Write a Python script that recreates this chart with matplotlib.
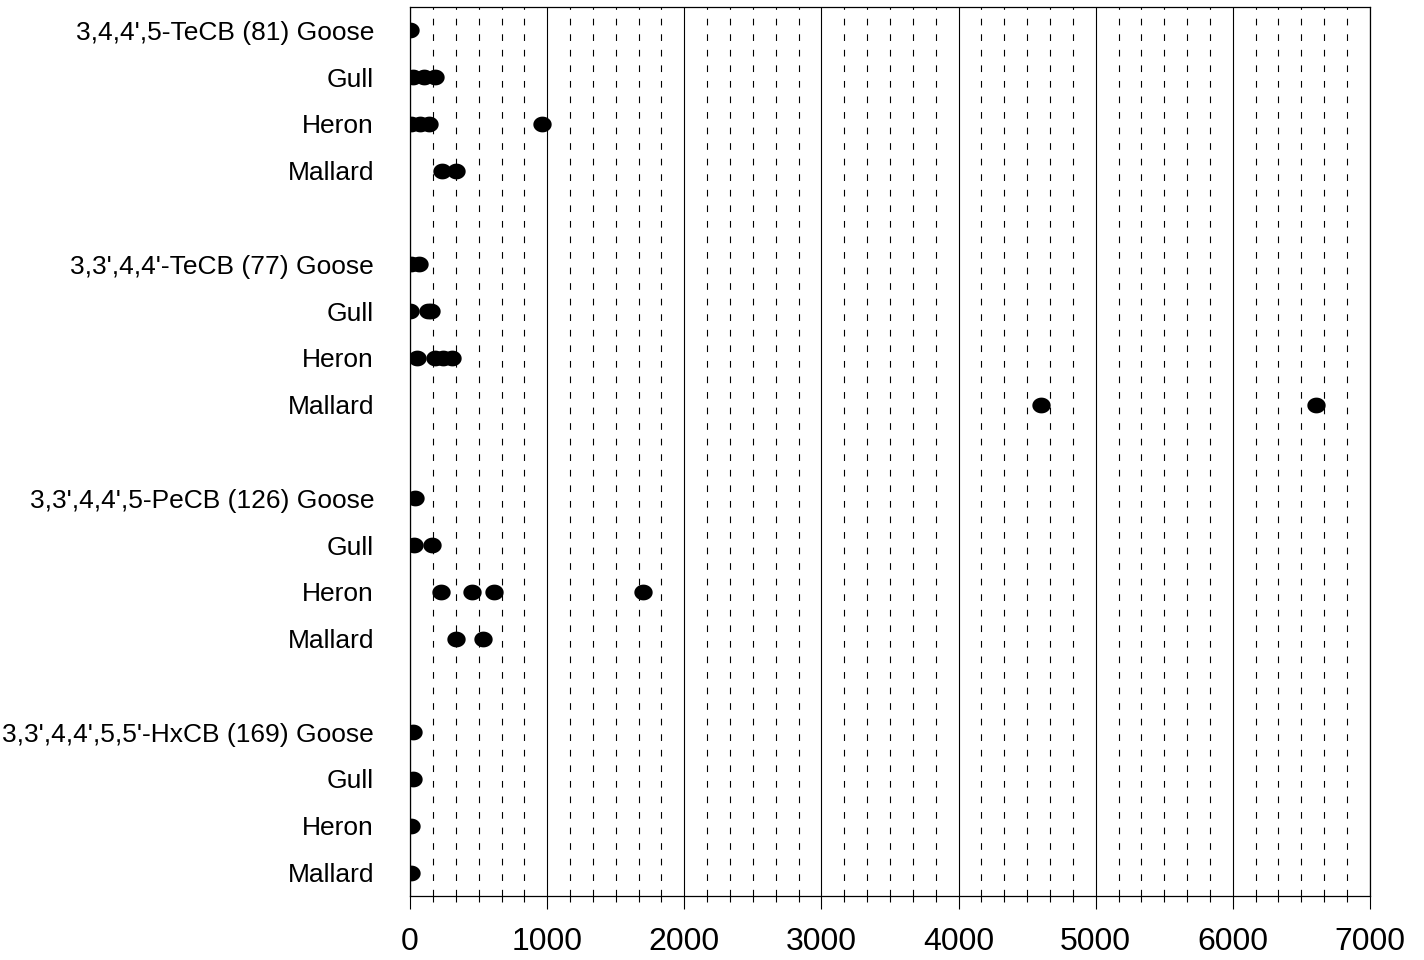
import numpy as np
import matplotlib
matplotlib.use("Agg")
import matplotlib.pyplot as plt
from matplotlib.path import Path
from matplotlib.ticker import MultipleLocator

plt.rcParams['font.family'] = ['Liberation Sans', 'DejaVu Sans']

# row labels, top to bottom ("" = spacer row between congeners)
labels = ["3,4,4',5-TeCB (81) Goose", "Gull", "Heron", "Mallard", "",
          "3,3',4,4'-TeCB (77) Goose", "Gull", "Heron", "Mallard", "",
          "3,3',4,4',5-PeCB (126) Goose", "Gull", "Heron", "Mallard", "",
          "3,3',4,4',5,5'-HxCB (169) Goose", "Gull", "Heron", "Mallard"]

# concentrations for each row
te81_goose = [0]
te81_gull = [20, 100, 185]
te81_heron = [10, 70, 135, 960]
te81_mallard = [230, 335]
te77_goose = [10, 62]
te77_gull = [0, 130, 150]
te77_heron = [47, 185, 240, 303]
te77_mallard = [4600, 6610]
pe126_goose = [33]
pe126_gull = [30, 160]
pe126_heron = [225, 450, 610, 1700]
pe126_mallard = [335, 535]
hx169_goose = [18]
hx169_gull = [18]
hx169_heron = [5]
hx169_mallard = [5]

values = [te81_goose, te81_gull, te81_heron, te81_mallard, [],
          te77_goose, te77_gull, te77_heron, te77_mallard, [],
          pe126_goose, pe126_gull, pe126_heron, pe126_mallard, [],
          hx169_goose, hx169_gull, hx169_heron, hx169_mallard]

# elliptical dot marker, a bit wider than tall
t = np.linspace(0, 2 * np.pi, 60)
ellipse = Path(np.column_stack([np.cos(t), 0.86 * np.sin(t)]), closed=True)

fig = plt.figure(figsize=(14.24, 9.6), dpi=100)
ax = fig.add_axes([0.288, 0.0667, 0.674, 0.926])

for i, vals in enumerate(values):
    if vals:
        ax.scatter(vals, [i] * len(vals), marker=ellipse, s=13.2 ** 2,
                   color='black', linewidths=0, zorder=3, clip_on=True)

ax.set_xlim(0, 7000)
ax.set_ylim(len(labels) - 0.5, -0.5)
ax.xaxis.set_major_locator(MultipleLocator(1000))
ax.xaxis.set_minor_locator(MultipleLocator(1000 / 6))
ax.set_axisbelow(True)
ax.grid(which='major', axis='x', color='black', linewidth=0.8, linestyle='-')
ax.grid(which='minor', axis='x', color='black', linewidth=0.8,
        linestyle=(0, (6, 8)))

ax.set_yticks(range(len(labels)))
ax.set_yticklabels(labels, fontsize=19)
ax.tick_params(axis='y', length=0, pad=26)
ax.tick_params(axis='x', which='major', length=9, width=0.8, labelsize=23, pad=13)
ax.tick_params(axis='x', which='minor', length=4.5, width=0.8)

for s in ax.spines.values():
    s.set_linewidth(0.9)

fig.savefig("out.png", dpi=100)
